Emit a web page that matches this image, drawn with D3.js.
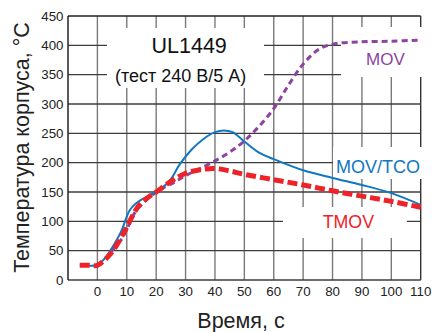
<!DOCTYPE html>
<html>
<head>
<meta charset="utf-8">
<script src="https://cdn.jsdelivr.net/npm/d3@7"></script>
<style>
  html, body { margin: 0; padding: 0; background: #fff; }
  svg { display: block; font-family: "Liberation Sans", Arial, sans-serif; }
</style>
</head>
<body>
<svg id="chart" width="432" height="332"></svg>
<script>
// Axis ticks
const xTicks = [0, 10, 20, 30, 40, 50, 60, 70, 80, 90, 100, 110];
const yTicks = [0, 50, 100, 150, 200, 250, 300, 350, 400, 450];

// MOV curve: time (s) and case temperature (°C)
const movTime = [0, 3, 5, 8, 10, 13, 17, 21, 26, 30, 35, 40, 45, 50, 55, 60, 65, 70, 75, 80, 90, 100, 110];
const movTemp = [25, 38, 50, 68, 86, 117, 138, 153, 166, 178, 190, 203, 218, 237, 262, 292, 332, 368, 392, 402, 406, 407, 409];

// MOV/TCO curve
const tcoTime = [-6, 0, 3, 5, 8, 10, 11, 13, 15, 18, 22, 25, 28, 32, 36, 40, 43, 46, 50, 55, 60, 70, 80, 90, 100, 110];
const tcoTemp = [25, 26, 40, 55, 82, 108, 119, 130, 137, 145, 157, 172, 197, 222, 240, 252, 255, 252, 236, 217, 206, 187, 174, 162, 148, 128];

// TMOV curve
const tmovTime = [-6, -3, 0, 2, 4, 6, 8, 10, 12, 14, 17, 20, 25, 30, 35, 40, 45, 50, 60, 70, 80, 90, 100, 110];
const tmovTemp = [25, 25, 25, 32, 42, 55, 72, 90, 110, 126, 140, 150, 168, 182, 188, 190, 186, 180, 171, 162, 152, 143, 134, 124];

const svg = d3.select("#chart");
const plotLeft = 68, plotRight = 420.7, plotTop = 16, plotBottom = 280;

const x = d3.scaleLinear().domain([-10, 110]).range([plotLeft, plotRight]);
const y = d3.scaleLinear().domain([0, 450]).range([plotBottom, plotTop]);

// Grid: vertical lines (gray), horizontal lines (dark)
svg.append("g").selectAll("line").data(xTicks).join("line")
  .attr("x1", d => x(d)).attr("x2", d => x(d))
  .attr("y1", plotTop).attr("y2", plotBottom)
  .attr("stroke", d => d === 110 ? "#333" : "#7a7a7a").attr("stroke-width", 1.4);

svg.append("g").selectAll("line").data(yTicks).join("line")
  .attr("x1", plotLeft).attr("x2", plotRight)
  .attr("y1", d => y(d)).attr("y2", d => y(d))
  .attr("stroke", d => d === 450 ? "#222" : "#3c3c3c").attr("stroke-width", 1.3);

// Left axis line
svg.append("line")
  .attr("x1", plotLeft).attr("x2", plotLeft).attr("y1", plotTop).attr("y2", plotBottom)
  .attr("stroke", "#222").attr("stroke-width", 1.5);

// White panels behind the annotations
const panels = [
  [107, 28, 157, 60],
  [341, 27, 84, 50],
  [333, 147, 92, 32],
  [283, 207, 124, 31]
];
svg.append("g").selectAll("rect").data(panels).join("rect")
  .attr("x", d => d[0]).attr("y", d => d[1])
  .attr("width", d => d[2]).attr("height", d => d[3])
  .attr("fill", "#fff");

// Curves
const line = d3.line()
  .x(d => x(d[0])).y(d => y(d[1]))
  .curve(d3.curveCatmullRom.alpha(0.5));

svg.append("path")
  .attr("d", line(d3.zip(movTime, movTemp)))
  .attr("fill", "none").attr("stroke", "#8c44a0")
  .attr("stroke-width", 3).attr("stroke-dasharray", "6,4");

svg.append("path")
  .attr("d", line(d3.zip(tcoTime, tcoTemp)))
  .attr("fill", "none").attr("stroke", "#1177c2")
  .attr("stroke-width", 2);

svg.append("path")
  .attr("d", line(d3.zip(tmovTime, tmovTemp)))
  .attr("fill", "none").attr("stroke", "#ee2229")
  .attr("stroke-width", 5).attr("stroke-dasharray", "10,4");

// Tick labels
svg.append("g").selectAll("text").data(yTicks).join("text")
  .attr("x", 63.5).attr("y", d => y(d) + 4.7)
  .attr("text-anchor", "end").attr("font-size", 13.3).attr("fill", "#222")
  .text(d => d);

svg.append("g").selectAll("text").data(xTicks).join("text")
  .attr("x", d => x(d)).attr("y", 295.5)
  .attr("text-anchor", "middle").attr("font-size", 13.3).attr("fill", "#222")
  .text(d => d);

// Axis titles
svg.append("text")
  .attr("transform", "translate(28.5,147.5) rotate(-90)")
  .attr("text-anchor", "middle").attr("font-size", 21.5).attr("fill", "#222")
  .text("Температура корпуса, °С");

svg.append("text")
  .attr("x", 241).attr("y", 328)
  .attr("text-anchor", "middle").attr("font-size", 21.5).attr("fill", "#222")
  .text("Время, с");

// Annotations
svg.append("text").attr("x", 151.5).attr("y", 52.7)
  .attr("font-size", 21.5).attr("fill", "#111").text("UL1449");
svg.append("text").attr("x", 115).attr("y", 82)
  .attr("font-size", 18).attr("fill", "#111").text("(тест 240 В/5 А)");

svg.append("text").attr("x", 366).attr("y", 65)
  .attr("font-size", 17).attr("fill", "#8c44a0").text("MOV");
svg.append("text").attr("x", 336).attr("y", 173.3)
  .attr("font-size", 18).attr("fill", "#1177c2").text("MOV/TCO");
svg.append("text").attr("x", 322.7).attr("y", 228.3)
  .attr("font-size", 17.8).attr("fill", "#ee2229").text("TMOV");
</script>
</body>
</html>
